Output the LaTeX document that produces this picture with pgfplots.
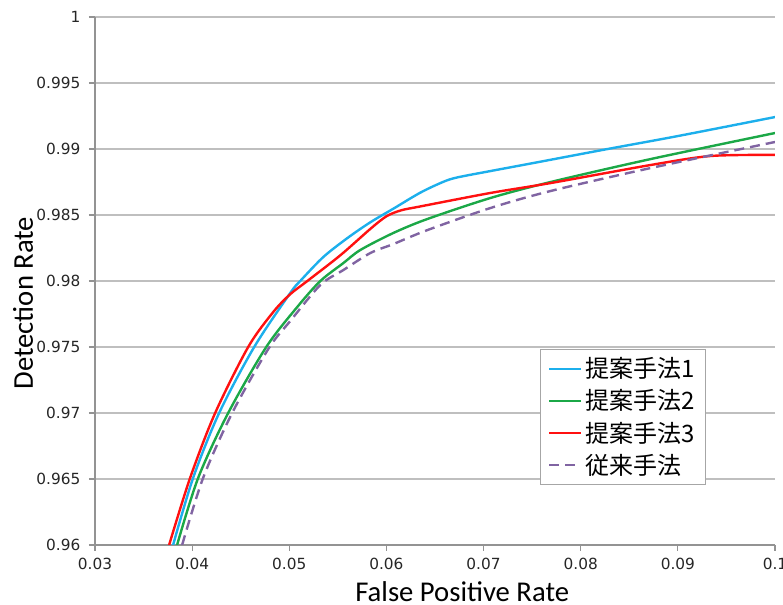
\documentclass[border=0pt]{standalone}
\usepackage{pgfplots}
\pgfplotsset{compat=1.18}
\usepackage{fontspec}
\setmainfont{DejaVu Sans}
\newfontfamily\labelfont{Carlito}
\newfontfamily\cjk{Noto Sans CJK JP}
\definecolor{cblue}{HTML}{1CAFEC}
\definecolor{cgreen}{HTML}{1BA847}
\definecolor{cred}{HTML}{FF1010}
\definecolor{cpurple}{HTML}{8064A2}
\begin{document}
\begin{tikzpicture}
\begin{axis}[
  at={(0pt,0pt)}, anchor=south west,
  scale only axis, width=510pt, height=396pt,
  xmin=0.03, xmax=0.1, ymin=0.96, ymax=1,
  xtick={0.03,0.04,0.05,0.06,0.07,0.08,0.09,0.1},
  ytick={0.96,0.965,0.97,0.975,0.98,0.985,0.99,0.995,1},
  scaled ticks=false,
  axis x line*=bottom, axis y line*=left,
  axis line style={draw=gray!85, line width=0.9pt},
  tick align=outside, major tick length=4.5pt,
  tick style={draw=gray!85, line width=0.9pt},
  ymajorgrids, grid style={draw=gray!50, line width=1.1pt},
  /pgf/number format/assume math mode=true,
  x tick label style={/pgf/number format/.cd, fixed, precision=2, /tikz/.cd, font=\fontsize{11.5}{13}\selectfont, text=black!85, yshift=-1.5pt},
  y tick label style={/pgf/number format/.cd, fixed, precision=3, /tikz/.cd, font=\fontsize{11.5}{13}\selectfont, text=black!85, xshift=-3pt},
  xlabel={False Positive Rate},
  ylabel={Detection Rate},
  xlabel style={at={(axis description cs:0.54,0)}, anchor=base, yshift=-42.5pt, font=\labelfont\fontsize{21.5}{24}\selectfont},
  ylabel style={at={(axis description cs:-0.0912,0.458)}, anchor=base, font=\labelfont\fontsize{21.5}{24}\selectfont},
  legend style={at={(axis description cs:0.654,0.371)}, anchor=north west, draw=gray!70, line width=0.8pt,
    font=\cjk\fontsize{18}{21}\selectfont, inner xsep=6pt, inner ysep=4pt, row sep=3.5pt},
  legend cell align=left,
  legend image code/.code={\draw[#1] (0pt,0pt) -- (24pt,0pt);},
  every axis plot/.append style={line width=1.8pt},
]
\addplot[cblue, smooth, tension=0.5] coordinates {
(0.03804,0.96) (0.04010,0.96508) (0.04278,0.97) (0.04639,0.975) (0.05010,0.97909)
(0.05113,0.98) (0.05351,0.98182) (0.05598,0.98325) (0.05835,0.98445) (0.06072,0.98548)
(0.06351,0.98670) (0.06588,0.98752) (0.06732,0.98785) (0.07072,0.98833) (0.07515,0.98894)
(0.08278,0.99) (0.09,0.99098) (0.1,0.99242)};
\addlegendentry{提案手法1}
\addplot[cgreen, smooth, tension=0.5] coordinates {
(0.03845,0.96) (0.04062,0.96508) (0.04371,0.97) (0.04763,0.975) (0.05082,0.97803)
(0.05320,0.98) (0.05557,0.98136) (0.05732,0.98235) (0.06072,0.98364) (0.06423,0.98470)
(0.07072,0.98629) (0.07691,0.98750) (0.08722,0.98924) (0.1,0.99121)};
\addlegendentry{提案手法2}
\addplot[cred, smooth, tension=0.5] coordinates {
(0.03763,0.96) (0.03979,0.96508) (0.04237,0.97) (0.04577,0.975) (0.04835,0.97765)
(0.05010,0.97900) (0.05186,0.98) (0.05526,0.98195) (0.05835,0.98395) (0.06000,0.98490)
(0.06150,0.98535) (0.06350,0.98565) (0.07072,0.98667) (0.07691,0.98742) (0.08722,0.98879)
(0.09340,0.98947) (0.1,0.98955)};
\addlegendentry{提案手法3}
\addplot[cpurple, dash pattern=on 7.5pt off 4.5pt, smooth, tension=0.5] coordinates {
(0.03897,0.96) (0.04113,0.96508) (0.04412,0.97) (0.04784,0.97485) (0.05010,0.97697)
(0.05320,0.97970) (0.05557,0.98083) (0.05835,0.98212) (0.06072,0.98280) (0.06423,0.98386)
(0.07072,0.98553) (0.07691,0.98682) (0.08722,0.98856) (0.1,0.99053)};
\addlegendentry{従来手法}
\end{axis}
\pgfresetboundingbox
\path (-71.25pt,-45pt) rectangle (516pt,408.75pt);
\end{tikzpicture}
\end{document}
